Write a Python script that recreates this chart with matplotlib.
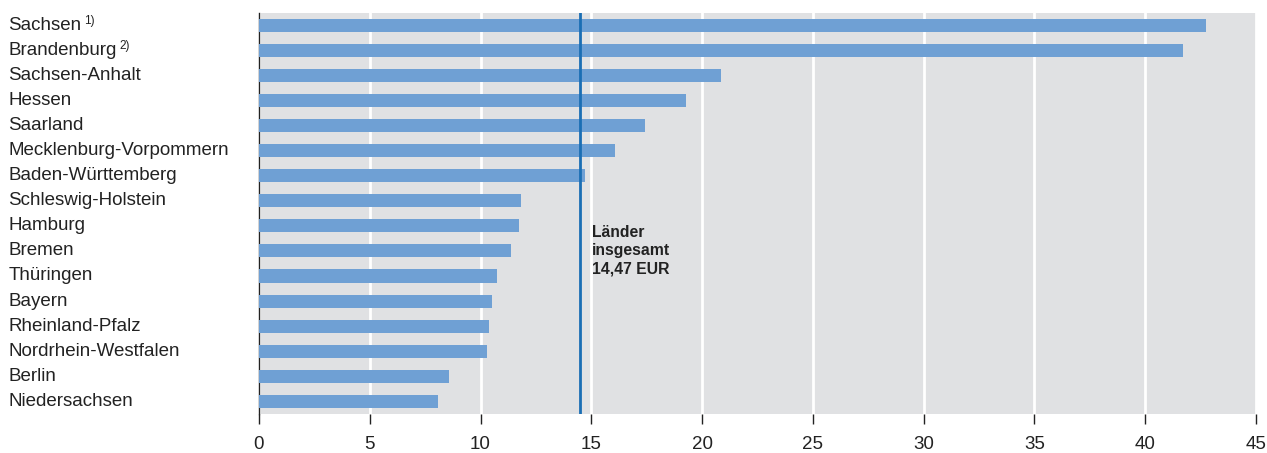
import matplotlib.pyplot as plt
from matplotlib.transforms import blended_transform_factory

plt.rcParams['font.family'] = ['Liberation Sans', 'DejaVu Sans']

# ===== DATA =====
laender = ["Sachsen", "Brandenburg", "Sachsen-Anhalt", "Hessen", "Saarland",
           "Mecklenburg-Vorpommern", "Baden-Württemberg", "Schleswig-Holstein",
           "Hamburg", "Bremen", "Thüringen", "Bayern", "Rheinland-Pfalz",
           "Nordrhein-Westfalen", "Berlin", "Niedersachsen"]
fussnoten = {"Sachsen": "1)", "Brandenburg": "2)"}
werte = [42.73, 41.70, 20.85, 19.27, 17.42, 16.07, 14.70, 11.82,
         11.73, 11.37, 10.74, 10.51, 10.38, 10.29, 8.57, 8.08]
gesamt = 14.47
x_ticks = [0, 5, 10, 15, 20, 25, 30, 35, 40, 45]

# ===== PLOT =====
fig = plt.figure(figsize=(12.67, 4.53), dpi=100)
ax = fig.add_axes([0.2044, 0.0861, 0.7869, 0.8852])
ax.set_facecolor("#e0e1e3")

pos = list(range(len(laender)))
ax.barh(pos, werte, height=0.52, color="#6fa0d4", zorder=3)
ax.axvline(gesamt, color="#1a6eb4", lw=2, zorder=4)

ax.set_xlim(0, 45)
ax.set_ylim(15.5, -0.48)
ax.set_xticks(x_ticks)
ax.set_xticklabels([str(t) for t in x_ticks], fontsize=13.5, color="#222222")
ax.tick_params(axis="x", direction="out", length=7, width=1, pad=9, colors="#222222")
ax.set_yticks([])
ax.grid(axis="x", color="white", lw=2, zorder=1)
ax.set_axisbelow(True)
for s in ["top", "right", "bottom"]:
    ax.spines[s].set_visible(False)
ax.spines["left"].set_color("#222222")
ax.spines["left"].set_linewidth(1)

trans = blended_transform_factory(fig.transFigure, ax.transData)
for i, name in enumerate(laender):
    t = ax.text(0.0065, i, name, transform=trans, ha="left", va="center",
                fontsize=13.5, color="#222222")
    if name in fussnoten:
        ax.annotate(fussnoten[name], xy=(1, 0.75), xycoords=t, xytext=(2, 0),
                    textcoords="offset points", ha="left", va="center",
                    fontsize=8.5, color="#222222")

ax.text(15.03, 9.0, "Länder\ninsgesamt\n14,47 EUR", ha="left", va="center",
        fontsize=11.3, fontweight="bold", color="#222222", linespacing=1.25, zorder=5)

fig.savefig("out.png", dpi=100)
